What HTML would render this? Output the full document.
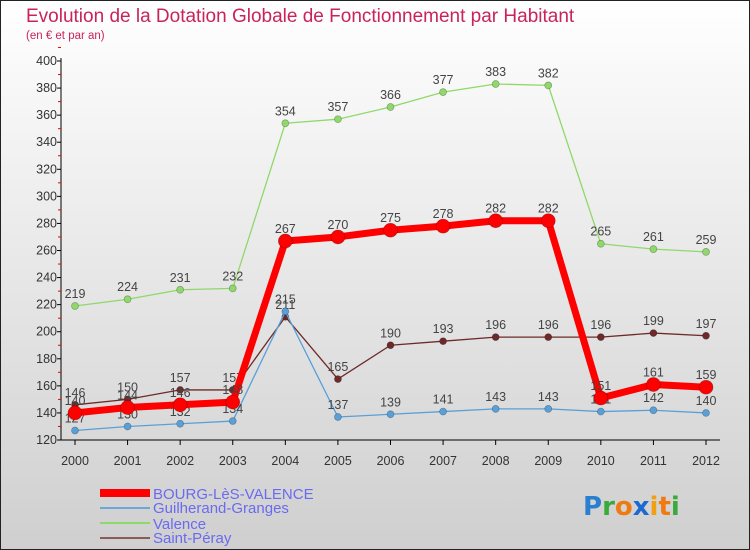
<!DOCTYPE html>
<html><head><meta charset="utf-8"><style>
body{margin:0;}
svg{display:block;font-family:"Liberation Sans",sans-serif;}
</style></head><body>
<svg id="c" width="750" height="550" xmlns="http://www.w3.org/2000/svg">
<defs><linearGradient id="bg" x1="0" y1="0" x2="0" y2="1"><stop offset="0" stop-color="#ffffff"/><stop offset="1" stop-color="#cfcfcf"/></linearGradient></defs>
<rect x="0.5" y="0.5" width="749" height="549" fill="url(#bg)" stroke="#222"/>
<text x="26" y="22" font-size="19" fill="#c8245a">Evolution de la Dotation Globale de Fonctionnement par Habitant</text>
<text x="26" y="39" font-size="11.5" fill="#c8245a">(en € et par an)</text>
<g id="axes"></g><g id="series"></g>
<g>
<rect x="100" y="489" width="50" height="8" fill="#f00"/>
<rect x="100" y="507" width="50" height="2" fill="#6aa8d8"/>
<rect x="100" y="522" width="50" height="2" fill="#8fd86a"/>
<rect x="100" y="537" width="50" height="2" fill="#8b5a5a"/>
<g font-size="15" fill="#6a6af0">
<text x="153" y="499">BOURG-LèS-VALENCE</text>
<text x="153" y="513">Guilherand-Granges</text>
<text x="153" y="529">Valence</text>
<text x="153" y="543">Saint-Péray</text>
</g></g>
<text x="583" y="515" font-size="26" font-family="DejaVu Sans" font-weight="bold"><tspan fill="#2a7fd0">P</tspan><tspan fill="#3aaa3a">r</tspan><tspan fill="#f07a10">o</tspan><tspan fill="#1a6ad0">x</tspan><tspan fill="#f0a010">i</tspan><tspan fill="#f07a10">t</tspan><tspan fill="#3aaa3a">i</tspan></text>
</svg>
<script>
const years=["2000","2001","2002","2003","2004","2005","2006","2007","2008","2009","2010","2011","2012"];
const bourg=[140,144,146,148,267,270,275,278,282,282,151,161,159];
const guilherand=[127,130,132,134,215,137,139,141,143,143,141,142,140];
const valence=[219,224,231,232,354,357,366,377,383,382,265,261,259];
const saintPeray=[146,150,157,157,211,165,190,193,196,196,196,199,197];
const yTicks=[120,140,160,180,200,220,240,260,280,300,320,340,360,380,400];
const NS="http://www.w3.org/2000/svg";
const X=i=>75+i*(706-75)/12, Y=v=>440-(v-120)*(379/280);
function mk(t,a,p){const e=document.createElementNS(NS,t);for(const k in a)e.setAttribute(k,a[k]);p.appendChild(e);return e;}
const ax=document.getElementById('axes');
let l=mk('line',{x1:61,y1:58,x2:61,y2:440,stroke:'#000'},ax);


l=mk('line',{x1:61,y1:440,x2:720,y2:440,stroke:'#000'},ax);


yTicks.forEach(v=>{
 mk('line',{x1:57,x2:61,y1:Y(v),y2:Y(v),stroke:'#000'},ax);
 mk('line',{x1:58,x2:61,y1:Y(v+10),y2:Y(v+10),stroke:'#e00'},ax);
 const t=mk('text',{x:57,y:Y(v)+4,'text-anchor':'end','font-size':12.5,fill:'#333'},ax);t.textContent=v;
 
 
});
years.forEach((y,i)=>{
 mk('line',{x1:X(i),x2:X(i),y1:440,y2:445,stroke:'#000'},ax);
 const t=mk('text',{x:X(i),y:465,'text-anchor':'middle','font-size':12.5,fill:'#333'},ax);t.textContent=y;
 
 
});
const sg=document.getElementById('series');
function draw(d,c,w,r,name){
 const g=mk('g',{},sg);
 
 
 mk('polyline',{points:d.map((v,i)=>X(i)+','+Y(v)).join(' '),fill:'none',stroke:c,'stroke-width':w,'stroke-linejoin':'round'},g);
 d.forEach((v,i)=>{
  const p=mk('circle',{cx:X(i),cy:Y(v),r:r,fill:c,stroke:'rgba(0,0,0,0.3)','stroke-width':0.7},g);
  
  
  const t=mk('text',{x:X(i),y:Y(v)-8,'text-anchor':'middle','font-size':12.5,fill:'#444'},g);t.textContent=v;
  
  
 });
}
draw(valence,'#8fd86a',1.3,3.5,'valence');
draw(saintPeray,'#6e2a2a',1.3,3.5,'saint-peray');
draw(guilherand,'#5aa0d8',1.3,3.5,'guilherand');
draw(bourg,'#f00',7,7,'bourg');
</script>
</body></html>
